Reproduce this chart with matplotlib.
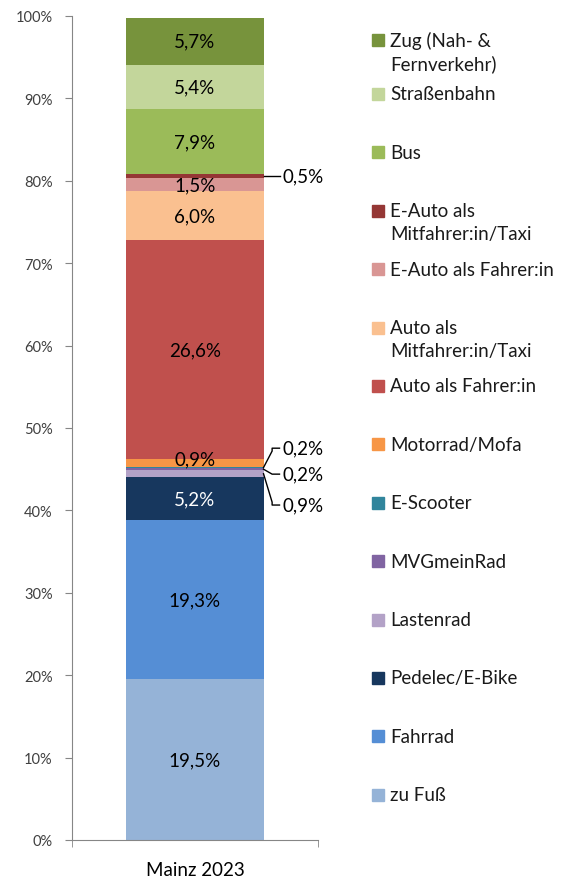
import matplotlib.pyplot as plt
from matplotlib.patches import Rectangle

# data, bottom to top
categories = ['zu Fuß', 'Fahrrad', 'Pedelec/E-Bike', 'Lastenrad', 'MVGmeinRad',
              'E-Scooter', 'Motorrad/Mofa', 'Auto als Fahrer:in',
              'Auto als\nMitfahrer:in/Taxi', 'E-Auto als Fahrer:in',
              'E-Auto als\nMitfahrer:in/Taxi', 'Bus', 'Straßenbahn',
              'Zug (Nah- &\nFernverkehr)']
values = [19.5, 19.3, 5.2, 0.9, 0.2, 0.2, 0.9, 26.6, 6.0, 1.5, 0.5, 7.9, 5.4, 5.7]
colors = ['#95B3D7', '#558ED5', '#17375E', '#B3A2C7', '#8064A2', '#31859C',
          '#F79646', '#C0504D', '#FAC090', '#D99694', '#953735', '#9BBB59',
          '#C3D69B', '#77933C']
bar_label = 'Mainz 2023'
yticks = [0, 10, 20, 30, 40, 50, 60, 70, 80, 90, 100]

FONT = 'Lato'
FS = 13.5
W, H = 577, 879
fig = plt.figure(figsize=(W / 100, H / 100), dpi=100)
ax = fig.add_axes([72 / W, (H - 841) / H, (318 - 72) / W, (841 - 17) / H])

bw = 0.557
edge = bw / 2
bottom = 0
centers = []
for v, c in zip(values, colors):
    ax.bar(0, v, bottom=bottom, width=bw, color=c, edgecolor='none')
    centers.append(bottom + v / 2)
    bottom += v

def fmt(v):
    return f'{v:.1f}'.replace('.', ',') + '%'

# labels inside the bar
inside = {0: None, 1: None, 2: 'white', 6: None, 7: None, 8: None, 9: None,
          11: None, 12: None, 13: None}
for i, col in inside.items():
    y = centers[i]
    if i == 6:
        y = centers[i] + 0.45
    ax.text(0, y, fmt(values[i]), ha='center', va='center', fontsize=FS,
            family=FONT, color=col or 'black')

# callouts outside
def callout(i, ly, kink):
    sy = centers[i]
    xk = edge + 0.035
    xs = [edge, xk, xk, edge + 0.065] if kink else [edge, xk, edge + 0.065]
    if kink:
        ys = [sy, ly - 0.35 * (1 if ly > sy else -1), ly, ly]
    else:
        ys = [sy, ly, ly]
    ax.plot(xs, ys, color='black', lw=1, clip_on=False, solid_joinstyle='round')
    ax.text(edge + 0.078, ly, fmt(values[i]), ha='left', va='center',
            fontsize=FS, family=FONT, clip_on=False)

ax.plot([edge, edge + 0.065], [centers[10]] * 2, color='black', lw=1, clip_on=False)
ax.text(edge + 0.078, centers[10] + 0.05, fmt(values[10]), ha='left', va='center',
        fontsize=FS, family=FONT, clip_on=False)
callout(5, 47.55, True)
callout(4, 44.4, False)
callout(3, 40.65, True)

ax.set_xlim(-0.5, 0.5)
ax.set_ylim(0, 100)
ax.set_yticks(yticks)
ax.set_yticklabels([f'{t}%' for t in yticks], fontsize=10.5, family=FONT, color='#404040')
ax.set_xticks([0])
ax.set_xticklabels([bar_label], fontsize=FS, family=FONT)
ax.tick_params(axis='x', length=0, pad=15)
ax.set_xticks([-0.5, 0.5], minor=True)
ax.tick_params(axis='x', which='minor', length=5, color='#868686')
ax.tick_params(axis='y', length=5, color='#868686', pad=9)
for s in ['top', 'right']:
    ax.spines[s].set_visible(False)
for s in ['left', 'bottom']:
    ax.spines[s].set_color('#868686')

# legend, top entry first
for i in range(len(categories)):
    k = len(categories) - 1 - i
    yc = 41 if i == 0 else 95 + (i - 1) * 58.4
    fig.patches.append(Rectangle((372 / W, (H - yc - 6) / H), 12 / W, 12 / H,
                                 transform=fig.transFigure, color=colors[k]))
    lines = categories[k].split('\n')
    for j, line in enumerate(lines):
        fig.text(390 / W, (H - yc - 23 * j) / H, line, ha='left', va='center',
                 fontsize=FS, family=FONT, color='#1a1a1a')

fig.savefig('out.png', dpi=100)
